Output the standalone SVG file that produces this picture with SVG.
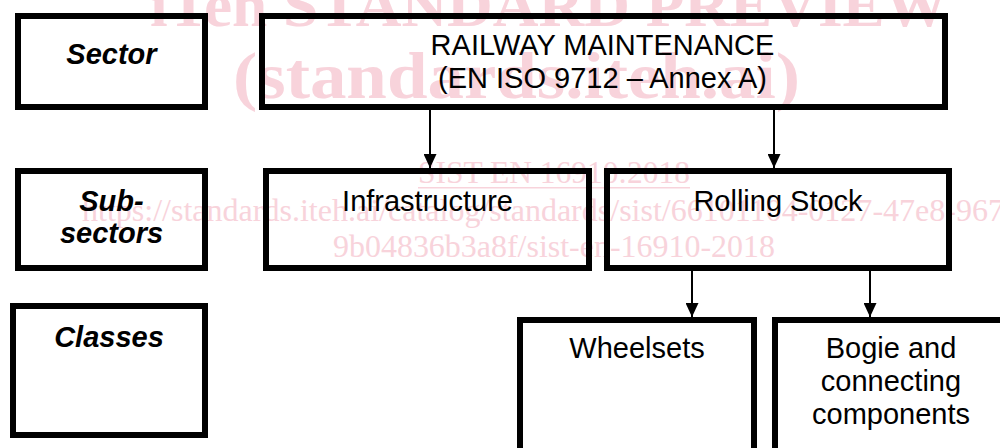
<svg xmlns="http://www.w3.org/2000/svg" width="1000" height="448" viewBox="0 0 1000 448">
<style>
.box{fill:none;stroke:#000;stroke-width:6}
.lbl{font-family:"Liberation Sans",Arial,sans-serif;font-size:29px;font-weight:bold;font-style:italic;fill:#000;text-anchor:middle}
.txt{font-family:"Liberation Sans",Arial,sans-serif;font-size:29px;fill:#000;text-anchor:middle}
.wm{font-family:"Liberation Serif","Times New Roman",serif;fill:#f8d3db}
.con{stroke:#000;stroke-width:2;fill:none}
</style>
<defs>
<marker id="ah" viewBox="0 0 14 13" refX="14" refY="6.5" markerWidth="14" markerHeight="13" markerUnits="userSpaceOnUse" orient="auto">
<path d="M0,0 L14,6.5 L0,13 Z" fill="#000"/>
</marker>
</defs>
<rect width="1000" height="448" fill="#fff"/>
<g id="watermark">
<text class="wm" x="150" y="26" font-size="62" font-weight="bold" textLength="798" lengthAdjust="spacingAndGlyphs">iTeh STANDARD PREVIEW</text>
<text class="wm" x="233" y="98" font-size="66" font-weight="bold" textLength="567" lengthAdjust="spacingAndGlyphs">(standards.iteh.ai)</text>
<text class="wm" x="418" y="183" font-size="31" textLength="272" lengthAdjust="spacingAndGlyphs">SIST EN 16910:2018</text>
<rect x="418" y="187" width="272" height="1.5" fill="#f8d3db"/>
<text class="wm" x="82" y="221" font-size="31" textLength="922" lengthAdjust="spacingAndGlyphs">https://standards.iteh.ai/catalog/standards/sist/66101104-0127-47e8-967</text>
<text class="wm" x="333" y="257" font-size="31" textLength="442" lengthAdjust="spacingAndGlyphs">9b04836b3a8f/sist-en-16910-2018</text>
</g>
<g id="sector-label">
<rect class="box" x="18" y="16" width="187" height="91"/>
<text class="lbl" x="111.5" y="64">Sector</text>
</g>
<g id="railway">
<rect class="box" x="262" y="16" width="683" height="91"/>
<text class="txt" x="602.5" y="55">RAILWAY MAINTENANCE</text>
<text class="txt" x="602.5" y="88">(EN ISO 9712 – Annex A)</text>
</g>
<g id="subsectors-label">
<rect class="box" x="18" y="171" width="187" height="97"/>
<text class="lbl" x="111.5" y="211">Sub-</text>
<text class="lbl" x="111.5" y="243">sectors</text>
</g>
<g id="infrastructure">
<rect class="box" x="266" y="171" width="323" height="97"/>
<text class="txt" x="427.5" y="211">Infrastructure</text>
</g>
<g id="rolling-stock">
<rect class="box" x="607" y="171" width="342" height="97"/>
<text class="txt" x="778" y="211">Rolling Stock</text>
</g>
<g id="classes-label">
<rect class="box" x="13" y="306" width="192" height="129"/>
<text class="lbl" x="109" y="347">Classes</text>
</g>
<g id="wheelsets">
<rect class="box" x="520" y="320" width="234" height="160"/>
<text class="txt" x="637" y="358">Wheelsets</text>
</g>
<g id="bogie">
<rect class="box" x="775" y="320" width="232" height="160"/>
<text class="txt" x="891" y="358">Bogie and</text>
<text class="txt" x="891" y="391">connecting</text>
<text class="txt" x="891" y="424">components</text>
</g>
<g id="connectors">
<line class="con" x1="430" y1="110" x2="430" y2="168" marker-end="url(#ah)"/>
<line class="con" x1="774" y1="110" x2="774" y2="168" marker-end="url(#ah)"/>
<line class="con" x1="692" y1="271" x2="692" y2="317" marker-end="url(#ah)"/>
<line class="con" x1="870" y1="271" x2="870" y2="317" marker-end="url(#ah)"/>
</g>
</svg>
